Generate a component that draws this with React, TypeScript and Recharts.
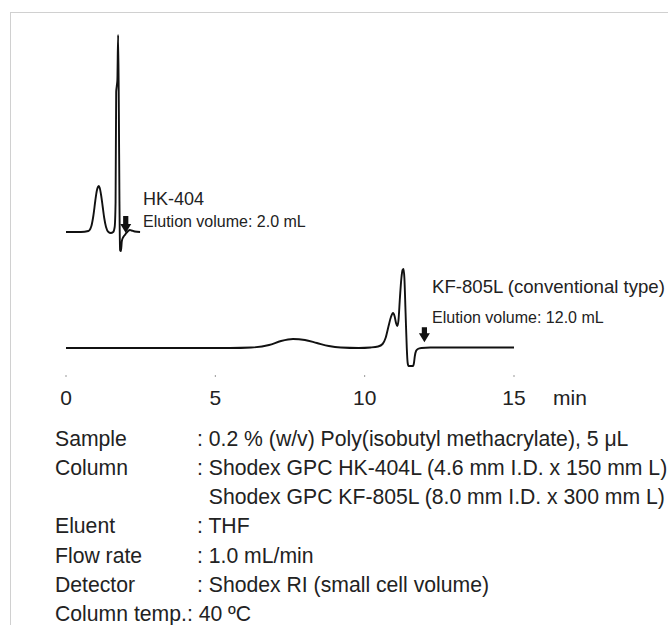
import React from 'react';
import { LineChart, Line, XAxis, YAxis, ReferenceDot } from 'recharts';

// retention time (min) and detector signal (arbitrary units)
const hkTime = [0, 0.5, 0.75, 0.85, 0.92, 0.98, 1.03, 1.07, 1.1, 1.13, 1.18, 1.23, 1.28, 1.34, 1.42, 1.5, 1.58, 1.63, 1.66, 1.68, 1.7, 1.72, 1.745, 1.77, 1.79, 1.81, 1.84, 1.87, 1.92, 1.97, 2.02, 2.08, 2.14, 2.2, 2.3, 2.48];
const hkSignal = [0, 0, 1, 6, 17, 31, 41, 45, 46, 44, 36, 25, 14, 5, 0, -1, 0, 5, 30, 140, 146, 152, 197, 120, 30, -18, -19, -9, -5, -3, -1, 1, 2, 1.5, 0.5, 0];

const kfTime = [0, 5.5, 6.2, 6.8, 7.2, 7.6, 8.0, 8.4, 8.8, 9.2, 9.8, 10.2, 10.45, 10.6, 10.7, 10.8, 10.88, 10.95, 11.0, 11.05, 11.09, 11.13, 11.18, 11.23, 11.27, 11.3, 11.33, 11.37, 11.41, 11.44, 11.47, 11.62, 11.65, 11.68, 11.72, 11.78, 11.9, 12.2, 15.0];
const kfSignal = [0, 0, 0.5, 3, 7, 9, 8, 5, 2, 0.5, 0, 0.5, 1.5, 4, 10, 22, 31, 35, 32, 25, 22, 27, 50, 70, 78, 79, 70, 35, 0, -15, -18, -18, -15, -8, -3, -1, 0, 0.5, 0.5];

const xTicks = [0, 5, 10, 15];
const arrowTimes = [2.0, 12.0];

const infoLabels = ['Sample', 'Column', '', 'Eluent', 'Flow rate', 'Detector'];
const infoValues = [
  ': 0.2 % (w/v) Poly(isobutyl methacrylate), 5 μL',
  ': Shodex GPC HK-404L (4.6 mm I.D. x 150 mm L)',
  '  Shodex GPC KF-805L (8.0 mm I.D. x 300 mm L)',
  ': THF',
  ': 1.0 mL/min',
  ': Shodex RI (small cell volume)',
];
const tempLine = 'Column temp.: 40 ºC';

const hkData = hkTime.map((t, i) => ({ t, v: hkSignal[i] }));
const kfData = kfTime.map((t, i) => ({ t, v: kfSignal[i] }));

const INK = '#111';
const FONT = '"Liberation Sans", Arial, Helvetica, sans-serif';

// block arrow pointing down, tip at (cx, cy)
const arrowShape = (len: number) => (props: any) => {
  const { cx, cy } = props;
  const head = 9;
  const d = `M${cx - 2.6},${cy - len} L${cx + 2.6},${cy - len} L${cx + 2.6},${cy - head} L${cx + 5.5},${cy - head} L${cx},${cy} L${cx - 5.5},${cy - head} L${cx - 2.6},${cy - head} Z`;
  return <path d={d} fill={INK} stroke="none" />;
};

const textStyle = (left: number, top: number, size: number): React.CSSProperties => ({
  position: 'absolute',
  left,
  top,
  fontSize: size,
  lineHeight: 1,
  color: '#222',
  whiteSpace: 'nowrap',
});

export default function App() {
  return (
    <div style={{ position: 'absolute', left: 0, top: 0, width: 668, height: 625, overflow: 'hidden', background: '#fff', fontFamily: FONT }}>
      {/* light frame */}
      <div style={{ position: 'absolute', left: 10, top: 12, width: 660, height: 640, borderTop: '1px solid #d0d0d0', borderLeft: '1px solid #d0d0d0' }} />

      <div style={{ position: 'absolute', left: 0, top: 0 }}>
        <LineChart width={668} height={420} margin={{ top: 20, right: 154, left: 66, bottom: 0 }}>
          <XAxis
            dataKey="t"
            type="number"
            domain={[0, 15]}
            ticks={xTicks}
            allowDataOverflow
            axisLine={false}
            tickLine={{ stroke: '#999', strokeWidth: 1 }}
            tickSize={2}
            tickMargin={13}
            height={45}
            tick={{ fontSize: 21, fill: '#222', fontFamily: FONT }}
          />
          <YAxis yAxisId="hk" hide domain={[-143, 212]} allowDataOverflow width={0} />
          <YAxis yAxisId="kf" hide domain={[-27, 328]} allowDataOverflow width={0} />
          <Line yAxisId="hk" data={hkData} dataKey="v" type="monotone" stroke={INK} strokeWidth={1.9} dot={false} isAnimationActive={false} />
          <Line yAxisId="kf" data={kfData} dataKey="v" type="monotone" stroke={INK} strokeWidth={1.9} dot={false} isAnimationActive={false} />
          <ReferenceDot yAxisId="hk" x={arrowTimes[0]} y={-1} ifOverflow="visible" shape={arrowShape(17)} />
          <ReferenceDot yAxisId="kf" x={arrowTimes[1]} y={5.7} ifOverflow="visible" shape={arrowShape(15)} />
        </LineChart>
      </div>

      <div style={{ ...textStyle(553, 387, 21) }}>min</div>

      <div style={textStyle(143, 190, 18)}>HK-404</div>
      <div style={textStyle(143, 214, 16)}>Elution volume: 2.0 mL</div>
      <div style={textStyle(432, 278, 18.6)}>KF-805L (conventional type)</div>
      <div style={textStyle(432, 310, 16)}>Elution volume: 12.0 mL</div>

      <div style={{ position: 'absolute', left: 55, top: 423.6, fontSize: 21.2, lineHeight: '29.3px', color: '#222', whiteSpace: 'pre' }}>
        {infoLabels.map((label, i) => (
          <div key={i} style={{ display: 'flex' }}>
            <span style={{ width: 142, display: 'inline-block' }}>{label}</span>
            <span>{infoValues[i]}</span>
          </div>
        ))}
        <div>{tempLine}</div>
      </div>
    </div>
  );
}
